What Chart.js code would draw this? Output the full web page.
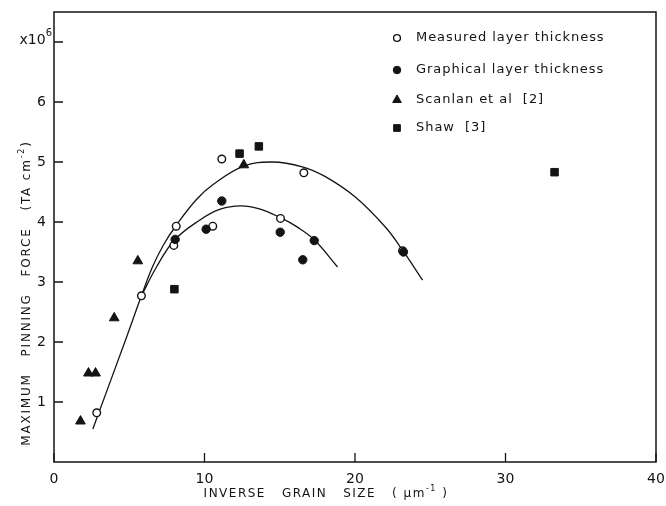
<!DOCTYPE html>
<html>
<head>
<meta charset="utf-8">
<script src="https://cdn.jsdelivr.net/npm/chart.js@4.4.1/dist/chart.umd.min.js"></script>
<style>
    html, body { margin: 0; background: #fff; }
    #wrap { width: 666px; height: 506px; }
</style>
</head>
<body>
<div id="wrap"><canvas id="pinningChart" width="666" height="506"></canvas></div>
<script>
// values: [inverse grain size, pinning force x1e6]
const measured = [[2.84, 0.82], [5.81, 2.77], [7.96, 3.61], [8.12, 3.93], [10.55, 3.93], [11.15, 5.05], [15.05, 4.06], [16.6, 4.82], [23.16, 3.52]];
const graphical = [[8.05, 3.71], [10.11, 3.88], [11.15, 4.35], [15.03, 3.83], [16.53, 3.37], [17.29, 3.69], [23.22, 3.5]];
const scanlan = [[1.76, 0.68], [2.29, 1.48], [2.76, 1.48], [4.0, 2.4], [5.57, 3.35], [12.61, 4.95]];
const shaw = [[8.0, 2.88], [12.33, 5.14], [13.61, 5.26], [33.26, 4.83]];

// fitted curves, points
const upperFit = [[2.58, 0.55], [4.82, 2.08], [5.81, 2.77], [6.54, 3.25], [7.3, 3.63], [8.14, 3.95], [9.45, 4.37], [10.55, 4.62], [12.6, 4.93], [14.5, 5.0], [16.5, 4.92], [18.0, 4.76], [20.0, 4.42], [22.0, 3.92], [23.16, 3.53], [24.49, 3.03]];
const lowerFit = [[5.81, 2.77], [6.81, 3.25], [8.01, 3.7], [9.67, 4.03], [11.0, 4.21], [12.4, 4.27], [13.65, 4.22], [14.98, 4.08], [16.2, 3.91], [17.31, 3.7], [18.84, 3.25]];

const xTicks = [0, 10, 20, 30, 40];
const yTicks = [1, 2, 3, 4, 5, 6];
const yExpTick = 7;
const legendLabels = ['Measured layer thickness', 'Graphical layer thickness', 'Scanlan et al  [2]', 'Shaw  [3]'];

const INK = '#141414';
const FONT = '"DejaVu Sans", sans-serif';

const toXY = arr => arr.map(p => ({ x: p[0], y: p[1] }));

const markerStyles = [
    { pointStyle: 'circle', radius: 3.8, fill: '#fff', borderWidth: 1.4 },
    { pointStyle: 'circle', radius: 4.2, fill: INK, borderWidth: 1 },
    { pointStyle: 'triangle', radius: 5.6, fill: INK, borderWidth: 1 },
    { pointStyle: 'rect', radius: 5.3, fill: INK, borderWidth: 1 }
];

function pointSet(label, data, style, order) {
    return {
        label: label,
        data: toXY(data),
        pointStyle: style.pointStyle,
        pointRadius: style.radius,
        pointBackgroundColor: style.fill,
        pointBorderColor: INK,
        pointBorderWidth: style.borderWidth,
        showLine: false,
        order: order
    };
}

function fitSet(data) {
    return {
        data: toXY(data),
        showLine: true,
        borderColor: INK,
        borderWidth: 1.3,
        pointRadius: 0,
        tension: 0.4,
        fill: false,
        order: 10
    };
}

// text pieces with optional superscripts
function drawRich(ctx, parts, x, y, size, align, spacing) {
    ctx.save();
    ctx.letterSpacing = (spacing || 0) + 'px';
    let total = 0;
    parts.forEach(p => {
        ctx.font = (p.sup ? Math.round(size * 0.7) : size) + 'px ' + FONT;
        p.w = ctx.measureText(p.t).width;
        total += p.w;
    });
    let cx = align === 'center' ? x - total / 2 : align === 'right' ? x - total : x;
    ctx.textBaseline = 'middle';
    ctx.textAlign = 'left';
    parts.forEach(p => {
        ctx.font = (p.sup ? Math.round(size * 0.7) : size) + 'px ' + FONT;
        ctx.fillText(p.t, cx, p.sup ? y - size * 0.45 : y);
        cx += p.w;
    });
    ctx.restore();
}

const decorPlugin = {
    id: 'decor',
    afterDraw(chart) {
        const ctx = chart.ctx;
        const area = chart.chartArea;
        const xs = chart.scales.x;
        const ys = chart.scales.y;
        ctx.save();
        ctx.strokeStyle = INK;
        ctx.fillStyle = INK;

        // frame
        ctx.lineWidth = 1.5;
        ctx.strokeRect(area.left, area.top, area.right - area.left, area.bottom - area.top);

        // inward ticks
        ctx.lineWidth = 1.3;
        ctx.beginPath();
        xTicks.forEach(v => {
            const px = xs.getPixelForValue(v);
            ctx.moveTo(px, area.bottom);
            ctx.lineTo(px, area.bottom - 9);
        });
        yTicks.concat([yExpTick]).forEach(v => {
            const py = ys.getPixelForValue(v);
            ctx.moveTo(area.left, py);
            ctx.lineTo(area.left + 9, py);
        });
        ctx.stroke();

        // tick labels
        ctx.font = '14px ' + FONT;
        ctx.textBaseline = 'middle';
        ctx.textAlign = 'center';
        xTicks.forEach(v => {
            ctx.fillText(String(v), xs.getPixelForValue(v), area.bottom + 17);
        });
        ctx.textAlign = 'right';
        yTicks.forEach(v => {
            ctx.fillText(String(v), area.left - 8, ys.getPixelForValue(v));
        });
        drawRich(ctx, [{ t: 'x10' }, { t: '6', sup: true }], area.left - 2, ys.getPixelForValue(yExpTick) - 2, 14, 'right');

        // axis titles
        drawRich(ctx, [{ t: 'INVERSE   GRAIN   SIZE   ( μm' }, { t: '-1', sup: true }, { t: ' )' }], 326, 494, 12, 'center', 1.5);
        ctx.save();
        ctx.translate(27, 293);
        ctx.rotate(-Math.PI / 2);
        drawRich(ctx, [{ t: 'MAXIMUM   PINNING   FORCE   (TA cm' }, { t: '-2', sup: true }, { t: ')' }], 0, 0, 12, 'center', 1.8);
        ctx.restore();

        // legend
        const rowsY = [38, 70, 100, 128];
        legendLabels.forEach((txt, i) => {
            const st = markerStyles[i];
            ctx.fillStyle = st.fill;
            ctx.strokeStyle = INK;
            ctx.lineWidth = st.borderWidth;
            Chart.helpers.drawPoint(ctx, { pointStyle: st.pointStyle, radius: st.radius * 0.9, rotation: 0, borderWidth: st.borderWidth }, 397, rowsY[i]);
            ctx.fillStyle = INK;
            ctx.font = '13px ' + FONT;
            ctx.textAlign = 'left';
            ctx.textBaseline = 'middle';
            ctx.letterSpacing = '0.95px';
            ctx.fillText(txt, 416, rowsY[i]);
            ctx.letterSpacing = '0px';
        });
        ctx.restore();
    }
};

new Chart(document.getElementById('pinningChart'), {
    type: 'scatter',
    data: {
        datasets: [
            pointSet(legendLabels[0], measured, markerStyles[0], 3),
            pointSet(legendLabels[1], graphical, markerStyles[1], 2),
            pointSet(legendLabels[2], scanlan, markerStyles[2], 1),
            pointSet(legendLabels[3], shaw, markerStyles[3], 1),
            fitSet(upperFit),
            fitSet(lowerFit)
        ]
    },
    options: {
        responsive: false,
        animation: false,
        events: [],
        layout: { padding: { left: 54, top: 12, right: 10, bottom: 44 } },
        plugins: {
            legend: { display: false },
            tooltip: { enabled: false }
        },
        scales: {
            x: { type: 'linear', min: 0, max: 40, display: false },
            y: { type: 'linear', min: 0, max: 7.5, display: false }
        }
    },
    plugins: [decorPlugin]
});
</script>
</body>
</html>
